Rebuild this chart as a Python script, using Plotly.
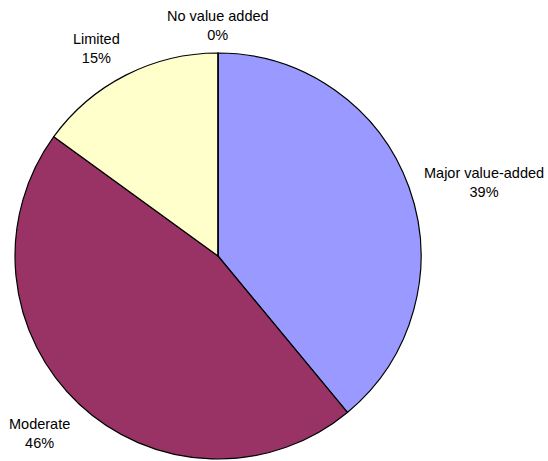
import math
import plotly.graph_objects as go

# Survey result: perceived value added
labels = ["Major value-added", "Moderate", "Limited", "No value added"]
values = [39, 46, 15, 0]
colors = ["#9999FF", "#993366", "#FFFFCC", "#FFFFFF"]

W, H = 548, 461
cx, cy, r = 218, 256, 203  # pie centre and radius in pixels

fig = go.Figure(go.Pie(
    labels=labels,
    values=values,
    sort=False,
    direction="clockwise",
    rotation=0,
    textinfo="none",
    hoverinfo="label+percent",
    marker=dict(colors=colors, line=dict(color="#000000", width=1.2)),
    domain=dict(x=[(cx - r) / W, (cx + r) / W], y=[(H - cy - r) / H, (H - cy + r) / H]),
    showlegend=False,
))

# Outside labels placed just beyond each slice's mid-angle
total = sum(values)
cum = 0.0
annotations = []
for lab, v in zip(labels, values):
    mid = (cum + v / 2) / total * 2 * math.pi
    cum += v
    s, c = math.sin(mid), math.cos(mid)
    px = cx + 1.07 * r * s
    py = cy - 1.07 * r * c
    xanchor = "left" if s > 0.1 else ("right" if s < -0.1 else "center")
    yanchor = "bottom" if c > 0.5 else ("top" if c < -0.5 else "middle")
    pct = round(v / total * 100)
    annotations.append(dict(
        x=px / W, y=1 - py / H, xref="paper", yref="paper",
        text=f"{lab}<br>{pct}%", showarrow=False,
        xanchor=xanchor, yanchor=yanchor, align="center",
        xshift=3 if xanchor == "right" else 0,
        yshift=-6 if yanchor == "bottom" else 0,
        font=dict(family="Liberation Sans, Arial, sans-serif", size=14.5, color="#000000"),
    ))

fig.update_layout(
    width=W, height=H,
    margin=dict(l=0, r=0, t=0, b=0),
    paper_bgcolor="#FFFFFF",
    plot_bgcolor="#FFFFFF",
    annotations=annotations,
)

fig.write_html("out.html")
